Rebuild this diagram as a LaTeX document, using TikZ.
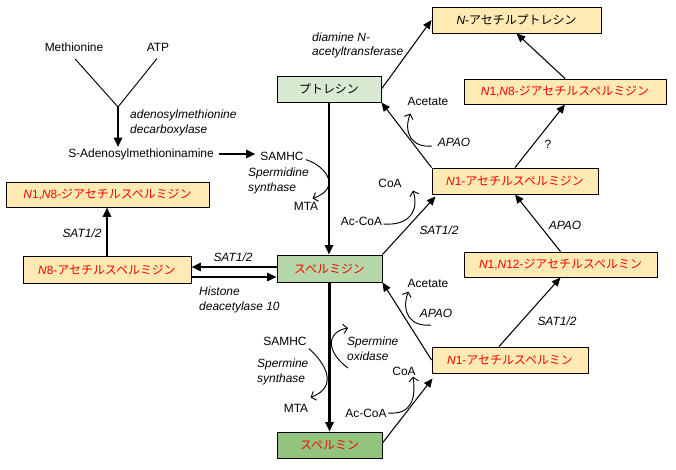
\documentclass[tikz,border=0pt]{standalone}
\usepackage{fontspec}
\setmainfont{Liberation Sans}
\newfontfamily\jp{Noto Sans CJK JP}
\usetikzlibrary{calc,arrows.meta}
\usepackage{xcolor}

\definecolor{acyel}{HTML}{FFEAB4}
\definecolor{grnA}{HTML}{D9EAD3}
\definecolor{grnB}{HTML}{B6D7A8}
\definecolor{grnC}{HTML}{93C47D}

\tikzset{
  box/.style={draw, line width=0.8pt, minimum height=0.78cm, inner sep=0pt,
    font=\fontsize{10.2}{12}\selectfont},
  accbox/.style={box, fill=acyel, text=red},
  txt/.style={inner sep=1pt, font=\fontsize{10.2}{12}\selectfont},
  lbl/.style={inner sep=0pt, align=left, font=\fontsize{10.2}{12.5}\selectfont\itshape},
  plain/.style={line width=0.8pt},
  bigarrow/.style={line width=1.9pt, -{Triangle[length=8pt,width=7pt]}},
  thinarrow/.style={line width=0.9pt, -{Triangle[length=7.5pt,width=6.5pt]}},
  curvarrow/.style={line width=0.8pt, -{Straight Barb[length=3.5pt,width=8pt]}}
}

\begin{document}
\begin{tikzpicture}[x=0.03cm, y=-0.03cm]
\useasboundingbox (0,0) rectangle (676,469);

% boxes
\node[box, fill=acyel, minimum width=5.07cm] (nap) at (516.5,20) {\textit{N}-{\jp アセチルプトレシン}};
\node[accbox, minimum width=6.06cm, minimum height=0.75cm] (dn8r) at (565,91.5) {\textit{N}1,\textit{N}8-{\jp ジアセチルスペルミジン}};
\node[accbox, minimum width=4.98cm] (n1spd) at (515,181) {\textit{N}1-{\jp アセチルスペルミジン}};
\node[box, fill=grnA, minimum width=3.12cm] (put) at (329,89) {\jp プトレシン};
\node[box, fill=grnB, text=red, minimum width=3.15cm, minimum height=0.81cm] (spd) at (329.5,268.5) {\jp スペルミジン};
\node[box, fill=grnC, text=red, minimum width=3.15cm] (spm) at (329.5,445) {\jp スペルミン};
\node[accbox, minimum width=6.09cm, minimum height=0.75cm] (dn8l) at (107.5,194.5) {\textit{N}1,\textit{N}8-{\jp ジアセチルスペルミジン}};
\node[accbox, minimum width=5.04cm, minimum height=0.81cm] (n8spd) at (107,269.5) {\textit{N}8-{\jp アセチルスペルミジン}};
\node[accbox, minimum width=5.79cm, minimum height=0.75cm] (dn12) at (560.5,264.5) {\textit{N}1,\textit{N}12-{\jp ジアセチルスペルミン}};
\node[accbox, minimum width=4.68cm] (n1spm) at (510,360) {\textit{N}1-{\jp アセチルスペルミン}};

% plain texts
\node[txt] (met) at (74,47) {Methionine};
\node[txt] (atp) at (158,47) {ATP};
\node[txt] (sam) at (141,154) {S-Adenosylmethioninamine};
\node[txt] (samhc1) at (282,156) {SAMHC};
\node[txt] (mta1) at (306,206) {MTA};
\node[txt] (acet1) at (428,101) {Acetate};
\node[txt] (coa1) at (390,183) {CoA};
\node[txt] (accoa1) at (361.5,221) {Ac-CoA};
\node[txt] (samhc2) at (285,341) {SAMHC};
\node[txt] (mta2) at (296,408) {MTA};
\node[txt] (acet2) at (428,283) {Acetate};
\node[txt] (coa2) at (404,371) {CoA};
\node[txt] (accoa2) at (366,413) {Ac-CoA};

% enzyme labels
\node[lbl, anchor=west] at (130,123) {adenosylmethionine\\decarboxylase};
\node[lbl, anchor=west] at (312,45.5) {diamine \textit{N}-\\acetyltransferase};
\node[lbl, anchor=west] at (248,181) {Spermidine\\synthase};
\node[lbl, anchor=west] at (257,372) {Spermine\\synthase};
\node[lbl, anchor=west] at (347,348.5) {Spermine\\oxidase};
\node[lbl, anchor=west] at (199,300) {Histone\\deacetylase 10};
\node[lbl] at (82,233) {SAT1/2};
\node[lbl] at (233,257) {SAT1/2};
\node[lbl] at (439,230) {SAT1/2};
\node[lbl] at (557,321) {SAT1/2};
\node[lbl] at (454,142) {APAO};
\node[lbl] at (565,225) {APAO};
\node[lbl] at (436,313) {APAO};
\node[txt] at (548,144) {?};

% methionine + ATP
\coordinate (yj) at (118,107);
\draw[plain] ($(met.south)+(1,6)$) -- (yj);
\draw[plain] ($(atp.south)+(-1,6)$) -- (yj);
\draw[bigarrow] (yj) -- (yj |- sam.north);
\draw[bigarrow, shorten <=3pt, shorten >=3pt] (sam.east) -- (sam.east -| samhc1.west);

% main chain
\draw[bigarrow] (put.south) -- (put.south |- spd.north);
\draw[bigarrow] (spd.south) -- (spd.south |- spm.north);
\draw[bigarrow] (n8spd.north) -- (n8spd.north |- dn8l.south);
\coordinate (su) at ($(spd.west)+(0,-1.5)$);
\coordinate (sl) at ($(spd.west)+(0,8.5)$);
\draw[bigarrow] (su) -- (su -| n8spd.east);
\draw[bigarrow] (sl -| n8spd.east) -- (sl);

% acetylation / oxidation
\draw[thinarrow] (put.east) -- (nap.west);
\draw[thinarrow] (dn8r.north) -- (nap.south);
\draw[thinarrow] (n1spd.north) -- (dn8r.south);
\draw[thinarrow] (n1spd.north west) -- (put.south east);
\draw[thinarrow] (spd.north east) -- ($(n1spd.south west)+(4,2)$);
\draw[thinarrow] (dn12.north) -- (n1spd.south);
\draw[thinarrow] ($(n1spm.north)+(-11,0)$) -- (dn12.south);
\draw[thinarrow] (n1spm.west) -- (spd.south east);
\draw[thinarrow] ($(spm.east)+(0,-2)$) -- ($(n1spm.south west)+(1,5)$);

% side reactions
\draw[curvarrow] ($(samhc1.south east)+(1,-2)$) .. controls (326,166) and (342,188) .. ($(mta1.north east)+(-7,-2)$);
\draw[curvarrow] ($(samhc2.south east)+(1,2)$) .. controls (324,362) and (340,386) .. ($(mta2.north east)+(1,-5)$);
\coordinate (sox1) at (348,368);
\coordinate (sox2) at (348,328);
\draw[curvarrow] (sox1) .. controls (326,352) and (326,332) .. (sox2);
\coordinate (apao1) at (432,146);
\draw[curvarrow] (apao1) .. controls (412,148) and (403,133) .. ($(acet1.south west)+(4,7)$);
\draw[curvarrow] ($(accoa1.east)+(0,3)$) .. controls (410,226) and (419,210) .. ($(coa1.south east)+(10,2)$);
\coordinate (apao2) at (431,325);
\draw[curvarrow] (apao2) .. controls (410,327) and (401,312) .. ($(acet2.south west)+(2,3)$);
\draw[curvarrow] (accoa2.east) .. controls (412,415) and (416,398) .. ($(coa2.south east)+(-4,0)$);

\end{tikzpicture}
\end{document}
